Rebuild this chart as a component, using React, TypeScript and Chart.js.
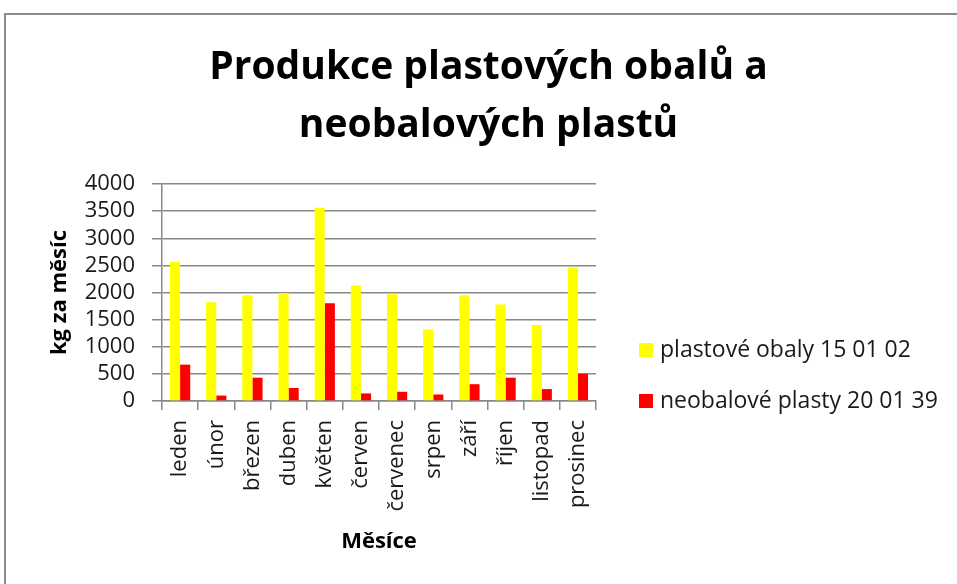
import React, { useEffect, useRef } from "react";
import { Chart, registerables } from "chart.js";

Chart.register(...registerables);

const categories = ["leden", "únor", "březen", "duben", "květen", "červen", "červenec", "srpen", "září", "říjen", "listopad", "prosinec"];
const plastoveObaly = [2560, 1820, 1950, 1990, 3560, 2130, 1970, 1320, 1950, 1780, 1400, 2460];
const neobalovePlasty = [670, 100, 430, 240, 1800, 140, 170, 120, 310, 430, 220, 500];
const seriesLabels = ["plastové obaly 15 01 02", "neobalové plasty 20 01 39"];
const seriesColors = ["#FFFF00", "#FF0000"];
const titleLines = ["Produkce plastových obalů a", "neobalových plastů"];
const yAxisTitle = "kg za měsíc";
const xAxisTitle = "Měsíce";
const yMin = 0;
const yMax = 4000;
const yStep = 500;

const FONT = "'Open Sans', 'DejaVu Sans', sans-serif";
const GRID = "#888888";
const TEXT = "#1a1a1a";

const legendPlugin = {
  id: "sideLegend",
  afterDraw(chart: any) {
    const ctx = chart.ctx;
    ctx.save();
    ctx.font = `23px ${FONT}`;
    ctx.textBaseline = "alphabetic";
    ctx.textAlign = "left";
    chart.data.datasets.forEach((ds: any, i: number) => {
      const baseY = 357 + i * 51;
      ctx.fillStyle = ds.backgroundColor;
      ctx.fillRect(639, baseY - 14, 14, 14);
      ctx.fillStyle = TEXT;
      ctx.fillText(ds.label, 660, baseY);
    });
    ctx.restore();
  },
};

export default function App() {
  const canvasRef = useRef<HTMLCanvasElement | null>(null);

  useEffect(() => {
    if (!canvasRef.current) return;
    const chart = new Chart(canvasRef.current, {
      type: "bar",
      data: {
        labels: categories,
        datasets: [
          {
            label: seriesLabels[0],
            data: plastoveObaly,
            backgroundColor: seriesColors[0],
            borderWidth: 0,
            barPercentage: 1,
            categoryPercentage: 0.56,
          },
          {
            label: seriesLabels[1],
            data: neobalovePlasty,
            backgroundColor: seriesColors[1],
            borderWidth: 0,
            barPercentage: 1,
            categoryPercentage: 0.56,
          },
        ],
      },
      options: {
        responsive: false,
        animation: false,
        layout: { padding: { left: 20, right: 0, top: 0, bottom: 0 } },
        plugins: {
          legend: { display: false },
          tooltip: { enabled: false },
          title: {
            display: true,
            text: titleLines,
            color: "#000000",
            font: { family: FONT, size: 39, weight: "bold", lineHeight: 58 / 39 },
            padding: { top: 39, bottom: 29 },
          },
        },
        scales: {
          x: {
            offset: true,
            grid: { display: true, drawOnChartArea: false, drawTicks: true, tickLength: 9, color: GRID, lineWidth: 1.5, offset: true },
            border: { display: true, color: GRID, width: 1.5 },
            ticks: {
              autoSkip: false,
              maxRotation: 90,
              minRotation: 90,
              padding: 10,
              color: TEXT,
              font: { family: FONT, size: 22 },
            },
            title: {
              display: true,
              text: xAxisTitle,
              color: "#000000",
              font: { family: FONT, size: 22, weight: "bold" },
              padding: { top: 0, bottom: 29 },
            },
            afterFit(scale: any) {
              scale.height = 183;
            },
          },
          y: {
            min: yMin,
            max: yMax,
            grid: { color: GRID, lineWidth: 1.5, tickLength: 10, drawTicks: true },
            border: { display: true, color: GRID, width: 1.5 },
            ticks: {
              stepSize: yStep,
              autoSkip: false,
              padding: 17,
              color: TEXT,
              font: { family: FONT, size: 22 },
              callback: (value: any) => String(value),
            },
            title: {
              display: true,
              text: yAxisTitle,
              color: "#000000",
              font: { family: FONT, size: 22, weight: "bold" },
              padding: { top: 27, bottom: 0 },
            },
            afterFit(scale: any) {
              scale.width = 142;
            },
          },
          yr: {
            type: "linear",
            position: "right",
            display: true,
            grid: { display: false, drawTicks: false },
            border: { display: false },
            ticks: { display: false },
            afterFit(scale: any) {
              scale.width = 361;
            },
          },
        },
      },
      plugins: [legendPlugin],
    } as any);
    return () => chart.destroy();
  }, []);

  return (
    <div style={{ position: "fixed", left: 0, top: 0, width: 957, height: 584, overflow: "hidden", background: "#ffffff" }}>
      <div
        style={{
          position: "absolute",
          left: 4,
          top: 13,
          width: 1200,
          height: 1200,
          borderLeft: "2px solid #8c8c8c",
          borderTop: "2px solid #8c8c8c",
        }}
      />
      <canvas ref={canvasRef} width={957} height={584} style={{ position: "absolute", left: 0, top: 0 }} />
    </div>
  );
}
